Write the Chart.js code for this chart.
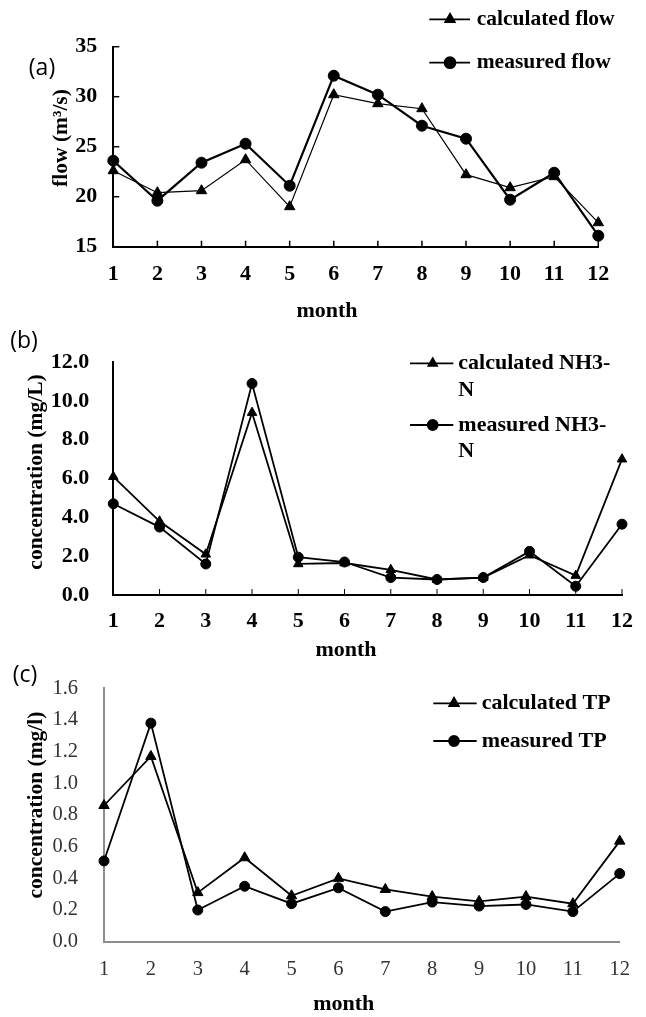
<!DOCTYPE html>
<html><head><meta charset="utf-8">
<script src="https://cdn.jsdelivr.net/npm/chart.js@4.4.1/dist/chart.umd.min.js"></script>
<style>
html,body{margin:0;padding:0;background:#fff;width:646px;height:1017px;overflow:hidden;}
canvas{position:absolute;left:0;}
</style></head><body>
<canvas id="ca" width="646" height="325" style="top:0px;width:646px;height:325px"></canvas>
<canvas id="cb" width="646" height="340" style="top:325px;width:646px;height:340px"></canvas>
<canvas id="cc" width="646" height="367" style="top:650px;width:646px;height:367px"></canvas>
<script>
// ---- data ----
const months = ['1','2','3','4','5','6','7','8','9','10','11','12'];

const flowCalc = [22.6, 20.4, 20.6, 23.7, 19.0, 30.2, 29.3, 28.8, 22.2, 20.9, 22.0, 17.4];
const flowMeas = [23.6, 19.6, 23.4, 25.3, 21.1, 32.1, 30.2, 27.1, 25.8, 19.7, 22.4, 16.1];

const nh3Calc = [6.1, 3.8, 2.1, 9.4, 1.6, 1.65, 1.3, 0.8, 0.9, 2.05, 1.0, 7.0];
const nh3Meas = [4.7, 3.5, 1.6, 10.9, 1.95, 1.7, 0.9, 0.8, 0.9, 2.25, 0.45, 3.65];

const tpCalc = [0.86, 1.17, 0.31, 0.53, 0.29, 0.40, 0.33, 0.285, 0.255, 0.285, 0.24, 0.635];
const tpMeas = [0.51, 1.38, 0.20, 0.35, 0.24, 0.34, 0.19, 0.25, 0.225, 0.235, 0.19, 0.43];

const flowAxis = {min: 15, max: 35, step: 5, decimals: 0};
const nh3Axis = {min: 0, max: 12, step: 2, decimals: 1};
const tpAxis = {min: 0, max: 1.6, step: 0.2, decimals: 1};

// ---- drawing ----
const SERIF = '"Liberation Serif", "Times New Roman", serif';
const SANS = '"Open Sans", "Noto Sans", sans-serif';

function decor(p) {
  return {
    id: 'decor_' + p.id,
    beforeDatasetsDraw(chart) {
      const ctx = chart.ctx;
      const {left, bottom} = chart.chartArea;
      const xs = chart.scales.x, ys = chart.scales.y;
      ctx.save();
      ctx.strokeStyle = p.axisColor;
      if (p.xTickIn) {
        ctx.lineWidth = p.xTickW;
        xs.ticks.forEach((t, i) => {
          const x = xs.getPixelForTick(i);
          ctx.beginPath(); ctx.moveTo(x, bottom); ctx.lineTo(x, bottom - p.xTickIn); ctx.stroke();
        });
      }
      if (p.yTickIn) {
        ctx.lineWidth = p.yTickW;
        ys.ticks.forEach((t, i) => {
          const y = ys.getPixelForTick(i);
          ctx.beginPath(); ctx.moveTo(left, y); ctx.lineTo(left + p.yTickIn, y); ctx.stroke();
        });
      }
      ctx.restore();
    },
    afterDraw(chart) {
      const ctx = chart.ctx;
      ctx.save();
      ctx.fillStyle = '#000';
      // panel label
      ctx.font = '23px ' + SANS;
      ctx.textAlign = 'center'; ctx.textBaseline = 'middle';
      ctx.fillText(p.panel.text, p.panel.x, p.panel.y);
      // y title
      ctx.font = 'bold 21.5px ' + SERIF;
      ctx.save();
      ctx.translate(p.yTitle.x, p.yTitle.y);
      ctx.rotate(-Math.PI / 2);
      ctx.fillText(p.yTitle.text, 0, 0);
      ctx.restore();
      // x title
      ctx.font = 'bold 22px ' + SERIF;
      ctx.fillText(p.xTitle.text, p.xTitle.x, p.xTitle.y);
      // legend
      const L = p.legend;
      ctx.font = 'bold ' + L.size + 'px ' + SERIF;
      ctx.textAlign = 'left';
      L.entries.forEach((e) => {
        ctx.strokeStyle = '#000'; ctx.lineWidth = 1.8;
        ctx.beginPath(); ctx.moveTo(L.x1, e.y); ctx.lineTo(L.x2, e.y); ctx.stroke();
        ctx.fillStyle = '#000';
        Chart.helpers.drawPoint(ctx, {pointStyle: e.style, radius: e.style === 'triangle' ? p.triR - 0.5 : p.cirR, borderWidth: 1, rotation: 0}, L.mx, e.y);
        ctx.fillStyle = '#000';
        e.lines.forEach((txt, j) => ctx.fillText(txt, L.tx, e.y + j * L.gap));
      });
      ctx.restore();
    }
  };
}

function makePanel(p) {
  const ds = (label, data, style, w, r) => ({
    label, data,
    borderColor: '#000', backgroundColor: '#000', borderWidth: w,
    pointStyle: style, pointRadius: r, pointBorderWidth: 1,
    pointBackgroundColor: '#000', pointBorderColor: '#000',
    tension: 0, clip: false
  });
  return new Chart(document.getElementById(p.id), {
    type: 'line',
    data: {
      labels: months,
      datasets: [
        ds(p.names[0], p.calc, 'triangle', p.calcW, p.triR),
        ds(p.names[1], p.meas, 'circle', p.measW, p.cirR)
      ]
    },
    options: {
      responsive: false, animation: false, devicePixelRatio: 1,
      layout: {padding: {left: 0, top: p.area.top, right: 646 - p.area.right, bottom: 0}},
      plugins: {legend: {display: false}, tooltip: {enabled: false}},
      scales: {
        x: {
          type: 'category', offset: false,
          grid: {display: false, drawTicks: false},
          border: {display: true, color: p.axisColor, width: p.axisW},
          ticks: {font: p.tickFont, color: p.tickColor, padding: p.xPad, maxRotation: 0, autoSkip: false},
          afterFit: (s) => { s.height = p.h - p.area.bottom; }
        },
        y: {
          type: 'linear', min: p.axis.min, max: p.axis.max,
          grid: {display: false, drawTicks: false},
          border: {display: true, color: p.axisColor, width: p.axisW},
          ticks: {stepSize: p.axis.step, font: p.tickFont, color: p.tickColor, padding: p.yPad,
                  callback: (v) => Number(v).toFixed(p.axis.decimals)},
          afterFit: (s) => { s.width = p.area.left; }
        }
      }
    },
    plugins: [decor(p)]
  });
}

makePanel({
  id: 'ca', h: 325, area: {left: 113.3, right: 598.3, top: 46.7, bottom: 246.7},
  axis: flowAxis, names: ['calculated flow', 'measured flow'], calc: flowCalc, meas: flowMeas,
  tickFont: {family: SERIF, size: 22, weight: 'bold'}, tickColor: '#000', xPad: 14, yPad: 16,
  axisColor: '#000', axisW: 2, xTickIn: 6, xTickW: 1.5, yTickIn: 6, yTickW: 1.5,
  calcW: 1.2, measW: 2.2, triR: 6, cirR: 5.5,
  panel: {text: '(a)', x: 42, y: 68},
  yTitle: {text: 'flow (m³/s)', x: 61.5, y: 138},
  xTitle: {text: 'month', x: 327, y: 311.7},
  legend: {size: 21.5, x1: 429.3, x2: 470, mx: 450, tx: 476.7, gap: 0,
           entries: [{style: 'triangle', y: 19.3, lines: ['calculated flow']},
                     {style: 'circle', y: 62.7, lines: ['measured flow']}]}
});

makePanel({
  id: 'cb', h: 340, area: {left: 113.3, right: 626, top: 32.3, bottom: 270},
  axis: nh3Axis, names: ['calculated NH3-N', 'measured NH3-N'], calc: nh3Calc, meas: nh3Meas,
  tickFont: {family: SERIF, size: 22, weight: 'bold'}, tickColor: '#000', xPad: 13, yPad: 24,
  axisColor: '#000', axisW: 2, xTickIn: 6, xTickW: 1, yTickIn: 0, yTickW: 1,
  calcW: 1.8, measW: 1.8, triR: 5.5, cirR: 5,
  panel: {text: '(b)', x: 24, y: 16.7},
  yTitle: {text: 'concentration (mg/L)', x: 36, y: 147},
  xTitle: {text: 'month', x: 346, y: 325},
  legend: {size: 22, x1: 410, x2: 453.3, mx: 432.7, tx: 458.3, gap: 26.7,
           entries: [{style: 'triangle', y: 38.3, lines: ['calculated NH3-', 'N']},
                     {style: 'circle', y: 100, lines: ['measured NH3-', 'N']}]}
});

makePanel({
  id: 'cc', h: 367, area: {left: 104, right: 628, top: 20, bottom: 291.7},
  axis: tpAxis, names: ['calculated TP', 'measured TP'], calc: tpCalc, meas: tpMeas,
  tickFont: {family: SERIF, size: 20.5, weight: 'normal'}, tickColor: '#333', xPad: 16, yPad: 26,
  axisColor: '#8c8c8c', axisW: 2, xTickIn: 0, xTickW: 1, yTickIn: 0, yTickW: 1,
  calcW: 1.8, measW: 1.8, triR: 6, cirR: 5,
  panel: {text: '(c)', x: 25, y: 25},
  yTitle: {text: 'concentration (mg/l)', x: 36, y: 155},
  xTitle: {text: 'month', x: 343.7, y: 354},
  legend: {size: 22, x1: 433.3, x2: 476.7, mx: 454, tx: 481.7, gap: 0,
           entries: [{style: 'triangle', y: 53.3, lines: ['calculated TP']},
                     {style: 'circle', y: 91, lines: ['measured TP']}]}
});
</script>
</body></html>
